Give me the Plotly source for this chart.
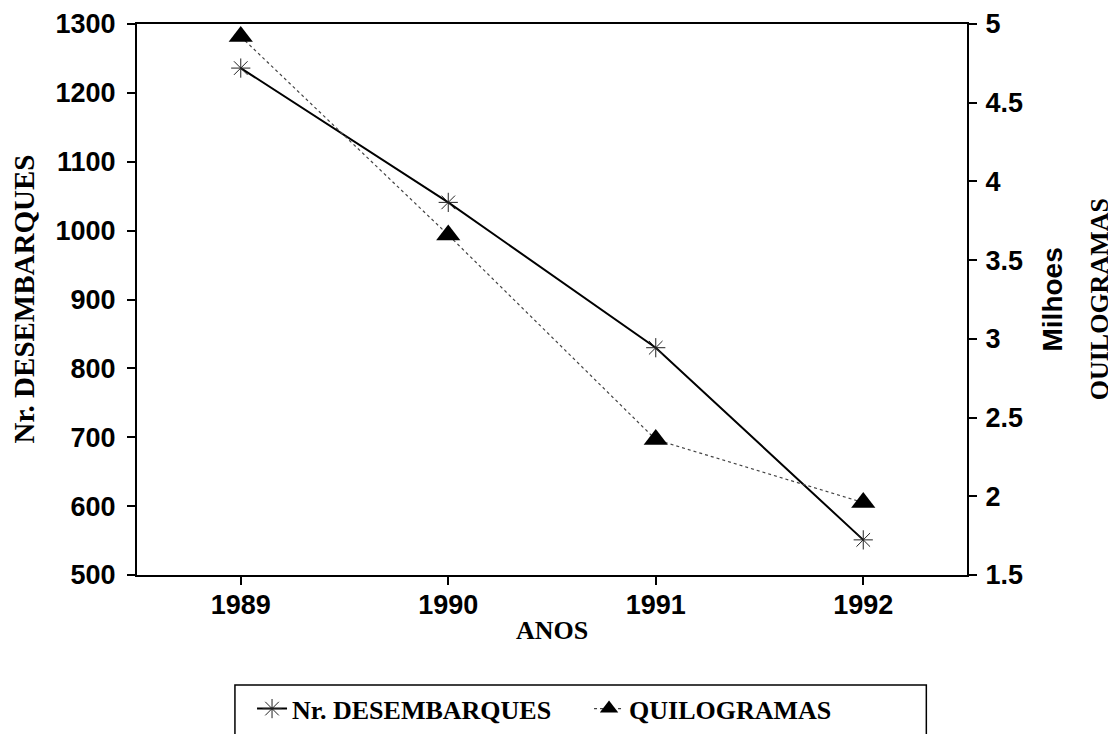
import plotly.graph_objects as go

anos = [1989, 1990, 1991, 1992]
desembarques = [1236, 1041, 830, 551]
quilogramas = [4.92, 3.66, 2.36, 1.96]  # milhoes

left_ticks = [500, 600, 700, 800, 900, 1000, 1100, 1200, 1300]
right_ticks = [1.5, 2, 2.5, 3, 3.5, 4, 4.5, 5]

SANS = "Liberation Sans"
SERIF = "Liberation Serif"

fig = go.Figure()
fig.add_trace(go.Scatter(
    x=anos, y=desembarques, name="Nr. DESEMBARQUES", mode="lines+markers",
    line=dict(color="black", width=2),
    marker=dict(symbol="asterisk-open", size=16, color="#222222",
                line=dict(color="#222222", width=1)),
    yaxis="y"))
fig.add_trace(go.Scatter(
    x=anos, y=quilogramas, name="QUILOGRAMAS", mode="lines+markers",
    line=dict(color="#444444", width=1.2, dash="dot"),
    marker=dict(symbol="triangle-up", size=21, color="black"),
    yaxis="y2"))

tickfont = dict(family=SANS, size=27, color="black", weight="bold")
axis_common = dict(showline=True, linecolor="black", linewidth=2,
                   ticks="outside", ticklen=8, tickwidth=1.5, tickcolor="black",
                   showgrid=False, zeroline=False, tickfont=tickfont,
                   automargin=False)

# page body has an 8px margin, so the figure is drawn 8px smaller and offset
fig.update_layout(
    width=1108, height=726,
    margin=dict(l=129, r=149, t=16, b=159, autoexpand=False),
    paper_bgcolor="white", plot_bgcolor="white",
    showlegend=True,
    legend=dict(orientation="h", x=0.1386, y=-0.2, xanchor="left", yanchor="top",
                font=dict(family=SERIF, size=26, color="black", weight="bold"),
                bgcolor="rgba(0,0,0,0)", borderwidth=0, itemwidth=30,
                entrywidth=292, entrywidthmode="pixels"),
    xaxis=dict(range=[1988.5, 1992.5], tickvals=anos, ticktext=[str(a) for a in anos],
               mirror=True, ticklabelstandoff=-3, **axis_common),
    yaxis=dict(range=[500, 1300], tickvals=left_ticks, ticklabelstandoff=6,
               **axis_common),
    yaxis2=dict(range=[1.5, 5], tickvals=right_ticks, overlaying="y", side="right",
                ticklabelstandoff=3, **axis_common),
    annotations=[
        dict(text="Nr. DESEMBARQUES", xref="paper", yref="paper", x=-0.1373, y=0.5,
             xanchor="center", yanchor="middle", textangle=-90, showarrow=False,
             font=dict(family=SERIF, size=29, color="black", weight="bold")),
        dict(text="ANOS", xref="paper", yref="paper", x=0.5, y=-0.1016,
             xanchor="center", yanchor="middle", showarrow=False,
             font=dict(family=SERIF, size=26, color="black", weight="bold")),
        dict(text="Milhoes", xref="paper", yref="paper", x=1.1036, y=0.5,
             xanchor="center", yanchor="middle", textangle=-90, showarrow=False,
             font=dict(family=SANS, size=28, color="black", weight="bold")),
        dict(text="QUILOGRAMAS", xref="paper", yref="paper", x=1.160, y=0.5,
             xanchor="center", yanchor="middle", textangle=-90, showarrow=False,
             font=dict(family=SERIF, size=26, color="black", weight="bold")),
    ],
    shapes=[dict(type="rect", xref="paper", yref="paper",
                 x0=0.118, x1=0.951, y0=-0.40, y1=-0.1996,
                 line=dict(color="black", width=1.5), fillcolor="rgba(0,0,0,0)")],
)

fig.write_html("out.html")
